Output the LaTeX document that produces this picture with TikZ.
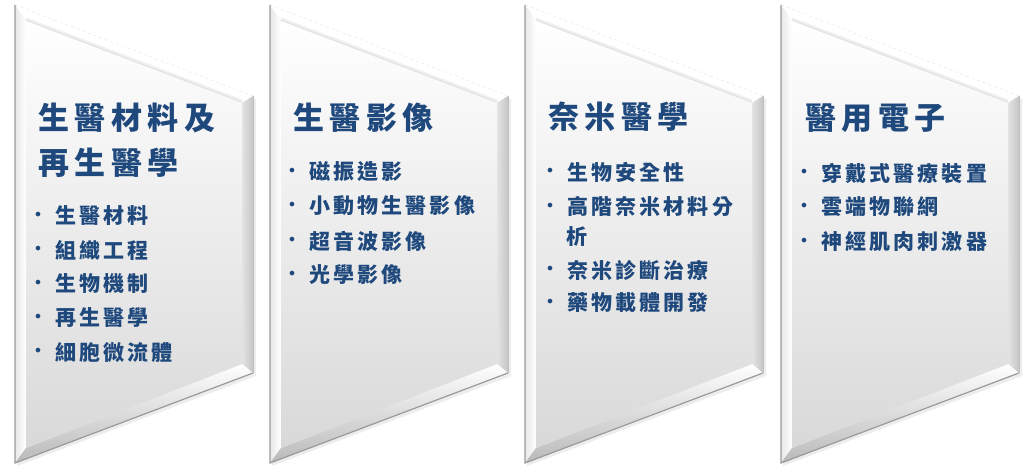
\documentclass[tikz,border=0pt]{standalone}
\usepackage{fontspec}
\newfontfamily\cjktitle[LetterSpace=18]{Noto Sans CJK TC}
\newfontfamily\cjkbul[LetterSpace=15]{Noto Sans CJK TC}
\newfontfamily\dotfont{DejaVu Sans}
\definecolor{txtblue}{HTML}{1F497D}
\definecolor{edgegray}{HTML}{9A9A9A}
\tikzset{
  titletext/.style={anchor=west,inner sep=0pt,text=txtblue,font=\cjktitle\bfseries\fontsize{31}{31}\selectfont},
  bultext/.style={anchor=west,inner sep=0pt,text=txtblue,font=\cjkbul\bfseries\fontsize{21}{21}\selectfont},
  bulmark/.style={anchor=center,inner sep=0pt,text=txtblue,font=\dotfont\fontsize{16}{16}\selectfont},
}
\newcommand{\panelshape}[1]{%
  \begin{scope}[xshift=#1]
    \coordinate (oa) at (0,5);
    \coordinate (ob) at (238,96);
    \coordinate (oc) at (238,373);
    \coordinate (od) at (0,463);
    \coordinate (ia) at (11,21);
    \coordinate (ib) at (227,103);
    \coordinate (ic) at (227,364);
    \coordinate (id) at (11,448);
    % soft shadow
    \fill[black,opacity=0.07] (2,8) -- (241,99) -- (241,376) -- (2,466) -- cycle;
    % top strip
    \fill[white] (oa) -- (ob) -- (ib) -- (ia) -- cycle;
    % left strip
    \shade[left color=gray!18,right color=white] (oa) -- (ia) -- (id) -- (od) -- cycle;
    % right strip
    \shade[left color=gray!22,right color=gray!45] (ob) -- (oc) -- (ic) -- (ib) -- cycle;
    % bottom strip
    \shade[top color=white,bottom color=gray!55] (id) -- (ic) -- (oc) -- (od) -- cycle;
    % face
    \shade[top color=white,bottom color=gray!30] (ia) -- (ib) -- (ic) -- (id) -- cycle;
    % shadow under top bevel
    \draw[black,opacity=0.06,line width=3pt] ([yshift=2pt]ia) -- ([yshift=2pt]ib);
    \draw[black,opacity=0.06,line width=1.2pt] ([yshift=0.8pt]ia) -- ([yshift=0.8pt]ib);
    % outline
    \draw[gray!20,line width=0.4pt,dashed] (oa) -- (ob);
    \draw[edgegray,line width=1.2pt] (oa) -- (od) -- (oc);
    \draw[gray!50,line width=0.8pt] (ob) -- (oc);
  \end{scope}%
}
\begin{document}
\begin{tikzpicture}[x=1pt,y=-1pt]
\useasboundingbox (0,0) rectangle (1028,476);
\fill[white] (0,0) rectangle (1028,476);
\panelshape{15}
\panelshape{270}
\panelshape{525}
\panelshape{781}
% panel 1
\node[titletext] (t1a) at (38,118) {生醫材料及};
\node[titletext] (t1b) at (38,163) {再生醫學};
\node[bulmark] (d1a) at (38,216) {•};
\node[bultext] (b1a) at (55,216) {生醫材料};
\node[bulmark] (d1b) at (38,250) {•};
\node[bultext] (b1b) at (55,250) {組織工程};
\node[bulmark] (d1c) at (38,284) {•};
\node[bultext] (b1c) at (55,284) {生物機制};
\node[bulmark] (d1d) at (38,318) {•};
\node[bultext] (b1d) at (55,318) {再生醫學};
\node[bulmark] (d1e) at (38,352) {•};
\node[bultext] (b1e) at (55,352) {細胞微流體};
% panel 2
\node[titletext] (t2) at (293,118) {生醫影像};
\node[bulmark] (d2a) at (292,172) {•};
\node[bultext] (b2a) at (309,172) {磁振造影};
\node[bulmark] (d2b) at (292,206) {•};
\node[bultext] (b2b) at (309,206) {小動物生醫影像};
\node[bulmark] (d2c) at (292,241) {•};
\node[bultext] (b2c) at (309,241) {超音波影像};
\node[bulmark] (d2d) at (292,275) {•};
\node[bultext] (b2d) at (309,275) {光學影像};
% panel 3
\node[titletext] (t3) at (548,117) {奈米醫學};
\node[bulmark] (d3a) at (550,172) {•};
\node[bultext] (b3a) at (567,172) {生物安全性};
\node[bulmark] (d3b) at (550,207) {•};
\node[bultext] (b3b) at (567,207) {高階奈米材料分};
\node[bultext] (b3b2) at (566,237) {析};
\node[bulmark] (d3c) at (550,270) {•};
\node[bultext] (b3c) at (567,270) {奈米診斷治療};
\node[bulmark] (d3d) at (550,303) {•};
\node[bultext] (b3d) at (567,303) {藥物載體開發};
% panel 4
\node[titletext] (t4) at (805,118) {醫用電子};
\node[bulmark] (d4a) at (804,173) {•};
\node[bultext] (b4a) at (821,173) {穿戴式醫療裝置};
\node[bulmark] (d4b) at (804,207) {•};
\node[bultext] (b4b) at (821,207) {雲端物聯網};
\node[bulmark] (d4c) at (804,242) {•};
\node[bultext] (b4c) at (821,242) {神經肌肉刺激器};
\end{tikzpicture}
\end{document}
